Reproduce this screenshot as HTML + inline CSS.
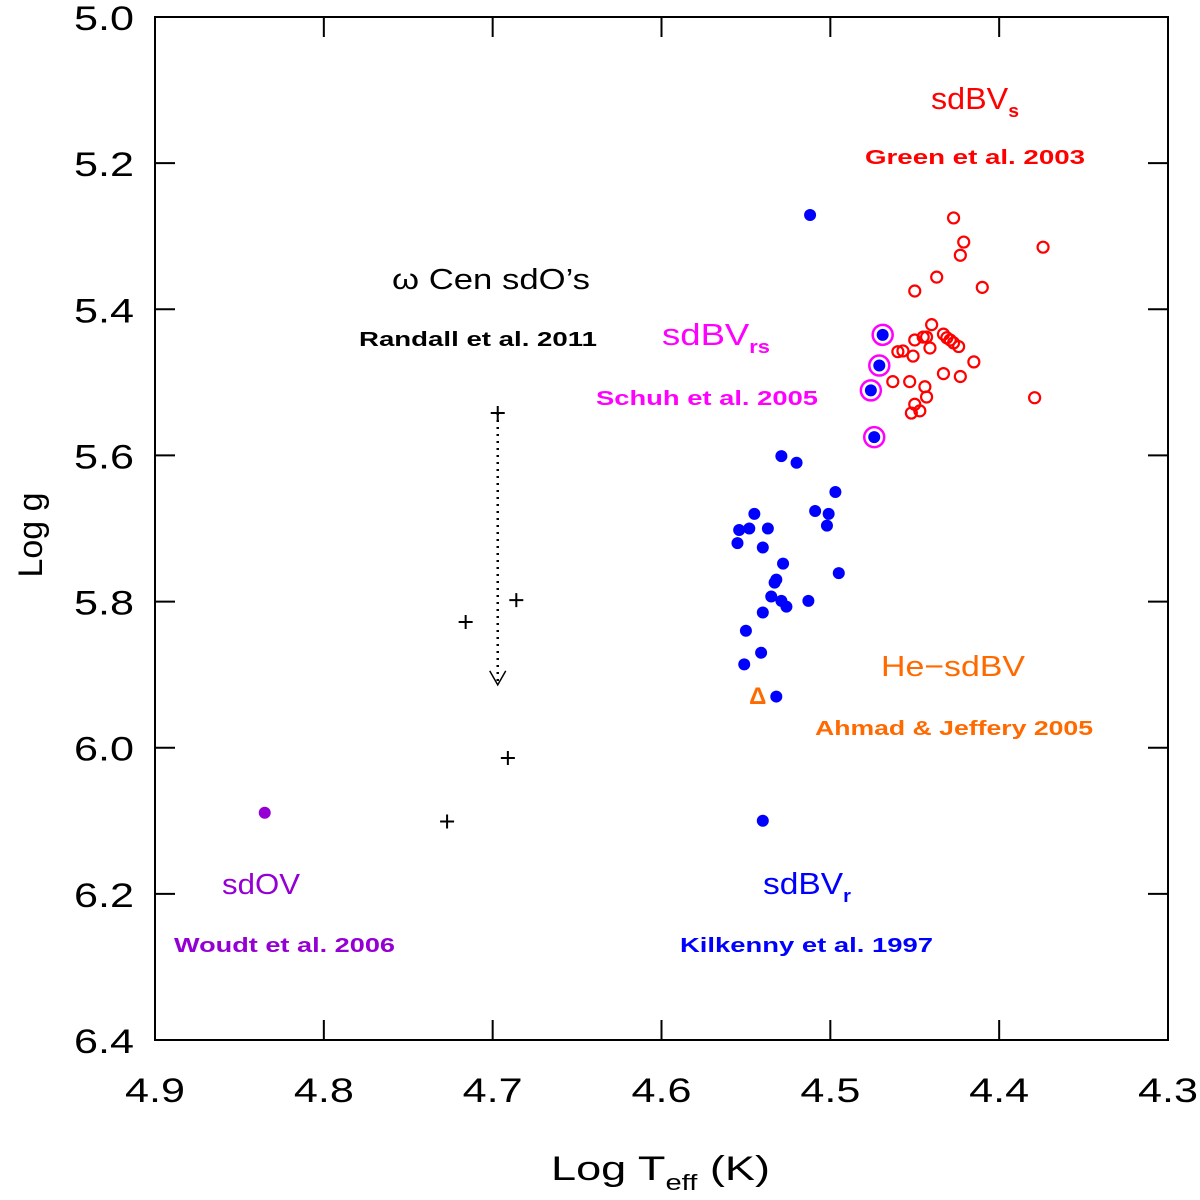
<!DOCTYPE html>
<html><head><meta charset="utf-8"><style>
body{margin:0;background:#fff;}
svg{display:block;font-family:"Liberation Sans",sans-serif;}
</style></head><body>
<svg id="chart" width="1200" height="1200" xmlns="http://www.w3.org/2000/svg"></svg>
<script>
const xTicks=[4.9,4.8,4.7,4.6,4.5,4.4,4.3];
const yTicks=[5.0,5.2,5.4,5.6,5.8,6.0,6.2,6.4];
const sdbvrT=[4.512,4.529,4.520,4.497,4.509,4.501,4.502,4.495,4.545,4.554,4.548,4.537,4.555,4.540,4.528,4.532,4.533,4.535,4.529,4.526,4.513,4.540,4.550,4.541,4.551,4.532,4.540];
const sdbvrG=[5.271,5.601,5.610,5.650,5.676,5.680,5.696,5.761,5.680,5.702,5.700,5.700,5.720,5.726,5.748,5.770,5.774,5.793,5.799,5.807,5.799,5.815,5.840,5.870,5.886,5.930,6.100];
const rsT=[4.469,4.471,4.476,4.474];
const rsG=[5.435,5.477,5.511,5.575];
const sdbvsT=[4.427,4.421,4.423,4.374,4.437,4.410,4.450,4.440,4.450,4.445,4.443,4.441,4.433,4.431,4.429,4.427,4.424,4.460,4.457,4.451,4.415,4.463,4.453,4.433,4.423,4.444,4.443,4.450,4.452,4.447,4.379];
const sdbvsG=[5.275,5.308,5.326,5.315,5.356,5.370,5.375,5.421,5.442,5.438,5.438,5.453,5.434,5.439,5.442,5.446,5.451,5.458,5.457,5.464,5.472,5.499,5.499,5.488,5.492,5.506,5.520,5.530,5.542,5.539,5.521];
const sdoT=[4.697,4.686,4.716,4.691,4.727];
const sdoG=[5.542,5.798,5.828,6.014,6.101];
const sdovT=[4.835], sdovG=[6.089];
const hesdT=[4.543], hesdG=[5.928];
const arrowT=4.697, arrowG1=5.542, arrowG2=5.914;

const X0=155,X1=1168,Y0=17,Y1=1040;
const sx=v=>X0+(4.9-v)/0.6*(X1-X0);
const sy=v=>Y0+(v-5.0)/1.4*(Y1-Y0);
const NS="http://www.w3.org/2000/svg";
const svg=document.getElementById('chart');
function mk(tag,attrs,parent){const e=document.createElementNS(NS,tag);for(const k in attrs)e.setAttribute(k,attrs[k]);(parent||svg).appendChild(e);return e;}

let frame=mk('rect',{x:X0,y:Y0,width:X1-X0,height:Y1-Y0,fill:'none',stroke:'#000','stroke-width':2});



xTicks.forEach(t=>{
  const x=sx(t);
  let l=mk('path',{d:`M${x} ${Y1}V${Y1-20}M${x} ${Y0}V${Y0+20}`,stroke:'#000','stroke-width':2});
  
  
  let tx=mk('text',{x:x-30,y:1102,'font-size':34,textLength:60,lengthAdjust:'spacingAndGlyphs'});
  tx.textContent=t.toFixed(1);
  
  
});
yTicks.forEach(t=>{
  const y=sy(t);
  let l=mk('path',{d:`M${X0} ${y}H${X0+20}M${X1} ${y}H${X1-20}`,stroke:'#000','stroke-width':2});
  
  
  let tx=mk('text',{x:74,y:y+13,'font-size':34,textLength:60,lengthAdjust:'spacingAndGlyphs'});
  tx.textContent=t.toFixed(1);
  
  
});

let xt=mk('text',{x:551,y:1180,'font-size':34,textLength:219,lengthAdjust:'spacingAndGlyphs'});
xt.innerHTML='Log T<tspan font-size="22" dy="10">eff</tspan><tspan dy="-10"> (K)</tspan>';


let yt=mk('text',{x:0,y:0,'font-size':34,transform:'translate(42,535) rotate(-90)','text-anchor':'middle'});
yt.textContent='Log g';



let ar=mk('path',{d:`M${sx(arrowT)} ${sy(arrowG1)}V${sy(arrowG2)}`,stroke:'#000','stroke-width':2.5,'stroke-dasharray':'2 5',fill:'none'});


let ah=mk('path',{d:`M${sx(arrowT)-8} ${sy(arrowG2)-14}L${sx(arrowT)} ${sy(arrowG2)}L${sx(arrowT)+8} ${sy(arrowG2)-14}`,stroke:'#000','stroke-width':1.5,fill:'none'});



sdbvsT.forEach((t,i)=>{
  let c=mk('circle',{cx:sx(t),cy:sy(sdbvsG[i]),r:5.5,fill:'none',stroke:'#f00','stroke-width':2.2});
  
  
});
sdbvrT.forEach((t,i)=>{
  let c=mk('circle',{cx:sx(t),cy:sy(sdbvrG[i]),r:6,fill:'#00f'});
  
  
});
rsT.forEach((t,i)=>{
  let r=mk('circle',{cx:sx(t),cy:sy(rsG[i]),r:10,fill:'none',stroke:'#f0f','stroke-width':2.5});
  
  
  let c=mk('circle',{cx:sx(t),cy:sy(rsG[i]),r:6,fill:'#00f'});
  
  
});
sdoT.forEach((t,i)=>{
  const x=sx(t),y=sy(sdoG[i]);
  let p=mk('path',{d:`M${x-7} ${y}H${x+7}M${x} ${y-7}V${y+7}`,stroke:'#000','stroke-width':2});
  
  
});
sdovT.forEach((t,i)=>{
  let c=mk('circle',{cx:sx(t),cy:sy(sdovG[i]),r:6,fill:'#9400d3'});
  
  
});
hesdT.forEach((t,i)=>{
  let c=mk('text',{x:sx(t),y:sy(hesdG[i])+9,'text-anchor':'middle','font-size':24,fill:'#ff6a00','font-weight':'bold'});
  c.textContent='Δ';
  
  
});

function label(x,y,w,txt,color,size,bold,name,sub){
  let t=mk('text',{x:x,y:y,'font-size':size,fill:color,'font-weight':bold?'bold':'normal',textLength:w,lengthAdjust:'spacingAndGlyphs'});
  t.textContent=txt;
  if(sub){const s=document.createElementNS(NS,'tspan');s.setAttribute('font-size',size*0.6);s.setAttribute('dy',8);s.setAttribute('font-weight','bold');s.textContent=sub;t.appendChild(s);}
  
  
}
label(931,109,88,'sdBV','#f00',31,false,'sdbvs-label','s');
label(865,164,220,'Green et al. 2003','#f00',20,true,'green-citation');
label(392,289,198,'ω Cen sdO’s','#000',29,false,'omega-cen-label');
label(359,346,238,'Randall et al. 2011','#000',20,true,'randall-citation');
label(662,345,108,'sdBV','#f0f',31,false,'sdbvrs-label','rs');
label(596,405,222,'Schuh et al. 2005','#f0f',20,true,'schuh-citation');
label(881,676,144,'He−sdBV','#ff6a00',29,false,'hesdbv-label');
label(815,735,278,'Ahmad & Jeffery 2005','#ff6a00',20,true,'ahmad-citation');
label(222,894,78,'sdOV','#9400d3',29,false,'sdov-label');
label(174,952,221,'Woudt et al. 2006','#9400d3',20,true,'woudt-citation');
label(763,894,88,'sdBV','#00f',31,false,'sdbvr-label','r');
label(680,952,253,'Kilkenny et al. 1997','#00f',20,true,'kilkenny-citation');
</script>
</body></html>
